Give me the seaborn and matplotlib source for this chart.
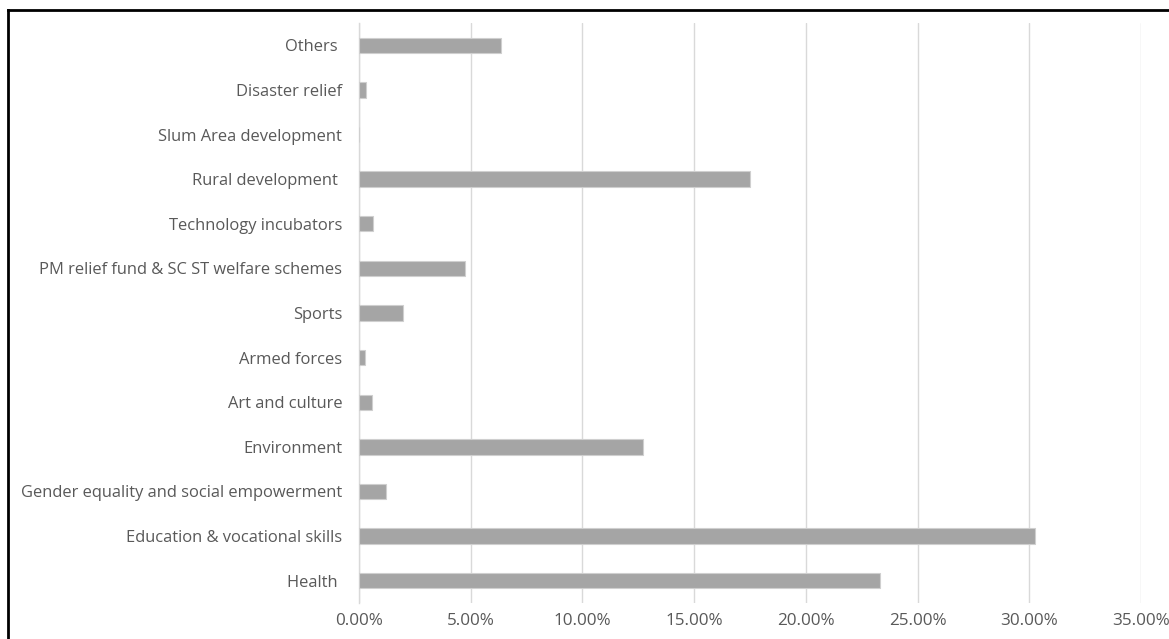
import matplotlib
matplotlib.use("Agg")
import matplotlib.pyplot as plt
import seaborn as sns
import pandas as pd
from matplotlib.ticker import PercentFormatter
from matplotlib.lines import Line2D

categories = [
    "Others ",
    "Disaster relief",
    "Slum Area development",
    "Rural development ",
    "Technology incubators",
    "PM relief fund & SC ST welfare schemes",
    "Sports",
    "Armed forces",
    "Art and culture",
    "Environment",
    "Gender equality and social empowerment",
    "Education & vocational skills",
    "Health ",
]
values = [0.0635, 0.0033, 0.0, 0.175, 0.0061, 0.0474, 0.0195, 0.0028, 0.0058, 0.1273, 0.0122, 0.3025, 0.2332]
x_ticks = [0.0, 0.05, 0.10, 0.15, 0.20, 0.25, 0.30, 0.35]

df = pd.DataFrame({"category": categories, "value": values})

sns.set_theme(style="white")
plt.rcParams["font.family"] = ["Open Sans", "DejaVu Sans"]

W, H = 1169, 639
fig = plt.figure(figsize=(W / 100, H / 100), dpi=100)
ax = fig.add_axes([359 / W, 1 - 603 / H, (1141 - 359) / W, (603 - 23) / H])

sns.barplot(data=df, x="value", y="category", orient="h", color="#a5a5a5",
            width=0.345, edgecolor="#cfcfcf", linewidth=0.8, saturation=1,
            ax=ax, zorder=3)

ax.set_xlim(0, 0.35)
ax.set_ylim(len(categories) - 0.5, -0.5)
ax.set_xticks(x_ticks)
ax.xaxis.set_major_formatter(PercentFormatter(1.0, decimals=2))
ax.grid(axis="x", color="#d9d9d9", linewidth=1.0, zorder=0)
ax.set_axisbelow(True)
for s in ["top", "right", "bottom"]:
    ax.spines[s].set_visible(False)
ax.spines["left"].set_color("#d9d9d9")
ax.spines["left"].set_linewidth(1.0)
ax.set_xlabel("")
ax.set_ylabel("")
ax.tick_params(axis="y", length=0, labelsize=11.9, labelcolor="#595959", pad=12)
ax.tick_params(axis="x", length=0, labelsize=12.3, labelcolor="#595959", pad=7)

# outer border (left and top edges visible)
fig.add_artist(Line2D([8 / W, 8 / W], [1 - 10 / H, -0.1], transform=fig.transFigure,
                      color="black", linewidth=2, solid_capstyle="projecting"))
fig.add_artist(Line2D([8 / W, 1.1], [1 - 10 / H, 1 - 10 / H], transform=fig.transFigure,
                      color="black", linewidth=2, solid_capstyle="projecting"))

fig.savefig("out.png", dpi=100)
